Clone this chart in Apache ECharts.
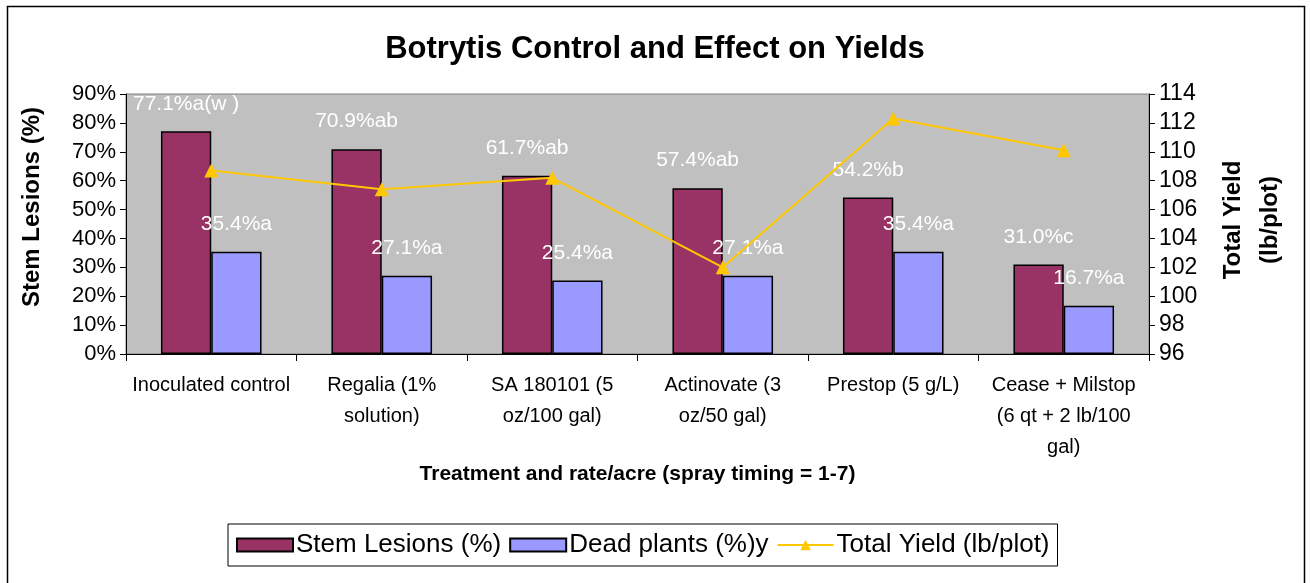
<!DOCTYPE html>
<html>
<head>
<meta charset="utf-8">
<script src="https://cdn.jsdelivr.net/npm/echarts@6/dist/echarts.min.js"></script>
<style>
  html, body { margin: 0; padding: 0; background: #fff; }
  #chart { width: 1310px; height: 583px; }
</style>
</head>
<body>
<div id="chart"></div>
<script>
const categories = [
  'Inoculated control',
  'Regalia (1%\nsolution)',
  'SA 180101 (5\noz/100 gal)',
  'Actinovate (3\noz/50 gal)',
  'Prestop (5 g/L)',
  'Cease + Milstop\n(6 qt + 2 lb/100\ngal)'
]
const stemLesions = [77.1, 70.9, 61.7, 57.4, 54.2, 31.0]
const stemLetters = ['a(w )', 'ab', 'ab', 'ab', 'b', 'c']
const deadPlants = [35.4, 27.1, 25.4, 27.1, 35.4, 16.7]
const deadLetters = ['a', 'a', 'a', 'a', 'a', 'a']
const totalYield = [108.7, 107.4, 108.2, 102.0, 112.3, 110.1]

const font = 'Liberation Sans, Arial, sans-serif'

const chart = echarts.init(document.getElementById('chart'))

const barLabel = (letters) => ({
  show: true,
  position: 'top',
  distance: 17,
  color: '#fff',
  fontFamily: font,
  fontSize: 21,
  formatter: (p) => p.value.toFixed(1) + '%' + letters[p.dataIndex]
})

const option = {
  animation: false,
  textStyle: { fontFamily: font },
  title: {
    text: 'Botrytis Control and Effect on Yields',
    left: 'center',
    top: 29,
    textStyle: { fontFamily: font, fontSize: 31, fontWeight: 'bold', color: '#000' }
  },
  graphic: [
    {
      type: 'rect',
      shape: { x: 7.5, y: 6.5, width: 1297, height: 600 },
      style: { fill: 'none', stroke: '#000', lineWidth: 1.5 },
      silent: true
    }
  ],
  legend: {
    left: 228,
    top: 524,
    padding: [8, 8, 8, 8],
    itemGap: 8,
    itemWidth: 56,
    itemHeight: 13,
    borderColor: '#000',
    borderWidth: 1,
    textStyle: { fontFamily: font, fontSize: 26, color: '#000', padding: [0, 0, 0, -2] },
    data: [
      { name: 'Stem Lesions (%)', icon: 'rect' },
      { name: 'Dead plants (%)y', icon: 'rect' },
      { name: 'Total Yield (lb/plot)' }
    ]
  },
  grid: {
    left: 126,
    right: 161,
    top: 94,
    bottom: 229,
    show: true,
    backgroundColor: '#c0c0c0',
    borderColor: '#808080',
    borderWidth: 1
  },
  xAxis: {
    type: 'category',
    data: categories,
    name: 'Treatment and rate/acre (spray timing = 1-7)',
    nameLocation: 'middle',
    nameGap: 108,
    nameTextStyle: { fontFamily: font, fontSize: 21, fontWeight: 'bold', color: '#000' },
    axisLine: { lineStyle: { color: '#000', width: 1 } },
    axisTick: { show: true, length: 7, lineStyle: { color: '#000' } },
    axisLabel: {
      interval: 0,
      margin: 16,
      color: '#000',
      fontFamily: font,
      fontSize: 20,
      lineHeight: 31
    }
  },
  yAxis: [
    {
      type: 'value',
      min: 0,
      max: 90,
      interval: 10,
      name: 'Stem Lesions (%)',
      nameLocation: 'middle',
      nameGap: 82,
      nameRotate: 90,
      nameTextStyle: { fontFamily: font, fontSize: 24, fontWeight: 'bold', color: '#000', padding: [0, 0, 0, 34] },
      axisLine: { show: true, lineStyle: { color: '#000' } },
      axisTick: { show: true, length: 6, lineStyle: { color: '#000' } },
      splitLine: { show: false },
      axisLabel: {
        color: '#000',
        fontFamily: font,
        fontSize: 22,
        margin: 10,
        formatter: (v) => v + '%'
      }
    },
    {
      type: 'value',
      min: 96,
      max: 114,
      interval: 2,
      position: 'right',
      name: 'Total Yield\n(lb/plot)',
      nameLocation: 'middle',
      nameGap: 66,
      nameRotate: 90,
      nameTextStyle: { fontFamily: font, fontSize: 24, fontWeight: 'bold', color: '#000', lineHeight: 37, padding: [0, 0, 0, 8] },
      axisLine: { show: true, lineStyle: { color: '#000' } },
      axisTick: { show: true, length: 6, lineStyle: { color: '#000' } },
      splitLine: { show: false },
      axisLabel: {
        color: '#000',
        fontFamily: font,
        fontSize: 23,
        margin: 10
      }
    }
  ],
  series: [
    {
      name: 'Stem Lesions (%)',
      type: 'bar',
      data: stemLesions,
      barGap: '0%',
      barCategoryGap: '41%',
      itemStyle: { color: '#993366', borderColor: '#000', borderWidth: 1.5 },
      label: barLabel(stemLetters)
    },
    {
      name: 'Dead plants (%)y',
      type: 'bar',
      data: deadPlants,
      itemStyle: { color: '#9999ff', borderColor: '#000', borderWidth: 1.5 },
      label: barLabel(deadLetters)
    },
    {
      name: 'Total Yield (lb/plot)',
      type: 'line',
      yAxisIndex: 1,
      data: totalYield,
      symbol: 'triangle',
      symbolSize: 14,
      lineStyle: { color: '#ffc800', width: 2 },
      itemStyle: { color: '#ffc800' },
      z: 5
    }
  ]
}

chart.setOption(option)
</script>
</body>
</html>
